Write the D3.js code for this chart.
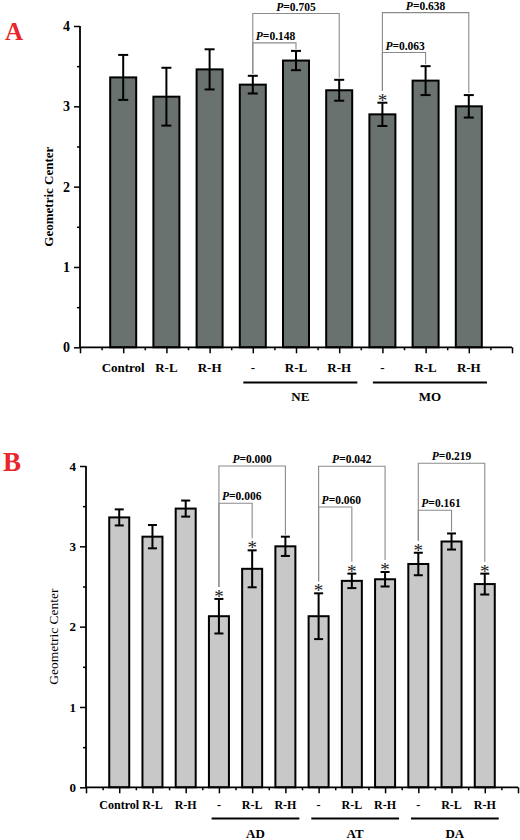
<!DOCTYPE html>
<html><head><meta charset="utf-8">
<script src="https://cdn.jsdelivr.net/npm/d3@7"></script>
<style>html,body{margin:0;padding:0;background:#fff;}svg{display:block;}</style>
</head><body>
<script>
// ---------- DATA ----------
const categoriesA = ["Control","R-L","R-H","-","R-L","R-H","-","R-L","R-H"];
const meansA      = [3.36, 3.12, 3.46, 3.27, 3.57, 3.20, 2.90, 3.32, 3.00];
const errorsA     = [0.28, 0.36, 0.25, 0.11, 0.12, 0.13, 0.145, 0.18, 0.14];
const starsA      = [false,false,false,false,false,false,true,false,false];
const groupsA     = [{name:"NE", from:3, to:5}, {name:"MO", from:6, to:8}];
const pairsA      = [{from:3,to:5,p:"0.705"},{from:3,to:4,p:"0.148"},{from:6,to:8,p:"0.638"},{from:6,to:7,p:"0.063"}];

const categoriesB = ["Control","R-L","R-H","-","R-L","R-H","-","R-L","R-H","-","R-L","R-H"];
const meansB      = [3.36, 3.12, 3.47, 2.13, 2.72, 3.00, 2.13, 2.57, 2.59, 2.78, 3.06, 2.53];
const errorsB     = [0.10, 0.145, 0.10, 0.215, 0.23, 0.12, 0.285, 0.09, 0.09, 0.14, 0.10, 0.13];
const starsB      = [false,false,false,true,true,false,true,true,true,true,false,true];
const groupsB     = [{name:"AD", from:3, to:5}, {name:"AT", from:6, to:8}, {name:"DA", from:9, to:11}];
const pairsB      = [{from:3,to:5,p:"0.000"},{from:3,to:4,p:"0.006"},{from:6,to:8,p:"0.042"},{from:6,to:7,p:"0.060"},{from:9,to:11,p:"0.219"},{from:9,to:10,p:"0.161"}];

const yTicks = [0,1,2,3,4];
const yTitle = "Geometric Center";

// ---------- LAYOUT ----------
const layoutA = {
  letter:"A", letterX:5, letterY:40, letterSize:25,
  x0:80, x1:512, yTop:26, yBottom:347.3, barW:26, fill:"#69726f", barStroke:2,
  tickFont:14, catFont:13, catY:372, groupLineY:382.5, groupY:401, groupFont:13,
  titleX:48, titleBold:true, titleSize:13, capW:10,
  bracketLevels:[4.155, 3.79, 4.167, 3.67], // in data units
  bracketCentered:[true,false,true,false], pFont:11.5
};
const layoutB = {
  letter:"B", letterX:3, letterY:470.5, letterSize:27,
  x0:86, x1:518, yTop:466, yBottom:787.3, barW:20, fill:"#c8c8c8", barStroke:2,
  tickFont:13, catFont:12, catY:809, groupLineY:818.5, groupY:838, groupFont:13,
  titleX:53, titleBold:false, titleSize:13.5, capW:9,
  bracketLevels:[4.0, 3.537, 3.997, 3.49, 4.035, 3.45],
  bracketCentered:[true,false,true,false,true,false], pFont:11.5
};

const svg = d3.select("body").append("svg").attr("width",520).attr("height",840);
const serif = "'Liberation Serif','Times New Roman',serif";

function drawPanel(L, cats, means, errs, stars, groups, pairs){
  const n = cats.length;
  const g = svg.append("g");
  const x = d3.scaleLinear().domain([0, n+1]).range([L.x0, L.x1]);
  const y = d3.scaleLinear().domain([0, 4]).range([L.yBottom, L.yTop]);

  // bars
  g.selectAll("rect.bar").data(means).enter().append("rect")
    .attr("x",(d,i)=>x(i+1)-L.barW/2).attr("width",L.barW)
    .attr("y",d=>y(d)).attr("height",d=>y(0)-y(d))
    .attr("fill",L.fill).attr("stroke","#000").attr("stroke-width",L.barStroke);

  // error bars
  means.forEach((m,i)=>{
    const cx = x(i+1), t = y(m+errs[i]), b = y(m-errs[i]);
    g.append("line").attr("x1",cx).attr("x2",cx).attr("y1",t).attr("y2",b).attr("stroke","#000").attr("stroke-width",2);
    [t,b].forEach(yy=>g.append("line").attr("x1",cx-L.capW/2).attr("x2",cx+L.capW/2).attr("y1",yy).attr("y2",yy).attr("stroke","#000").attr("stroke-width",2));
    if(stars[i]) g.append("text").attr("x",cx).attr("y",t+4).attr("text-anchor","middle")
      .attr("font-family",serif).attr("font-size",19).attr("fill","#222").text("*");
  });

  // y axis
  const yAxis = d3.axisLeft(y).tickValues(yTicks).tickSize(6).tickPadding(4).tickFormat(d3.format("d"));
  const ya = g.append("g").attr("transform",`translate(${L.x0},0)`).call(yAxis);
  ya.select(".domain").attr("stroke-width",1.8).attr("d",`M0,${y(0)}V${y(4)}`);
  ya.selectAll(".tick line").attr("stroke-width",1.5);
  ya.selectAll(".tick text").attr("font-family",serif).attr("font-weight","bold").attr("font-size",L.tickFont).attr("fill","#000");
  const yMinor = d3.axisLeft(y).tickValues([0.5,1.5,2.5,3.5]).tickSize(3).tickFormat("");
  const ym = g.append("g").attr("transform",`translate(${L.x0},0)`).call(yMinor);
  ym.select(".domain").remove(); ym.selectAll(".tick line").attr("stroke-width",1.5);

  // x axis
  const xAxis = d3.axisBottom(x).tickValues(d3.range(0,n+2)).tickSize(6).tickFormat("");
  const xa = g.append("g").attr("transform",`translate(0,${L.yBottom})`).call(xAxis);
  xa.select(".domain").attr("stroke-width",1.8).attr("d",`M${L.x0},0H${L.x1}`);
  xa.selectAll(".tick line").attr("stroke-width",1.5);
  const xMinor = d3.axisBottom(x).tickValues(d3.range(0,n+1).map(k=>k+0.5)).tickSize(3).tickFormat("");
  const xm = g.append("g").attr("transform",`translate(0,${L.yBottom})`).call(xMinor);
  xm.select(".domain").remove(); xm.selectAll(".tick line").attr("stroke-width",1.5);

  // category labels
  g.selectAll("text.cat").data(cats).enter().append("text")
    .attr("x",(d,i)=>x(i+1)).attr("y",L.catY).attr("text-anchor","middle")
    .attr("font-family",serif).attr("font-weight","bold").attr("font-size",L.catFont).text(d=>d);

  // groups
  groups.forEach(gr=>{
    const a = x(gr.from+1-0.22), b = x(gr.to+1+0.42);
    g.append("line").attr("x1",a).attr("x2",b).attr("y1",L.groupLineY).attr("y2",L.groupLineY).attr("stroke","#000").attr("stroke-width",1.8);
    g.append("text").attr("x",(a+b)/2).attr("y",L.groupY).attr("text-anchor","middle")
      .attr("font-family",serif).attr("font-weight","bold").attr("font-size",L.groupFont).text(gr.name);
  });

  // brackets
  pairs.forEach((p,k)=>{
    const lv = y(L.bracketLevels[k]);
    const xa1 = x(p.from+1), xa2 = x(p.to+1);
    const endOf = i => { const t = y(means[i]+errs[i]); return stars[i] ? t-12 : t-2; };
    g.append("path").attr("d",`M${xa1},${endOf(p.from)}V${lv}H${xa2}V${endOf(p.to)}`)
      .attr("fill","none").attr("stroke","#8a8a8a").attr("stroke-width",1.1);
    const t = g.append("text").attr("y",lv-3).attr("font-family",serif).attr("font-weight","bold").attr("font-size",L.pFont);
    if(L.bracketCentered[k]) t.attr("x",(xa1+xa2)/2).attr("text-anchor","middle");
    else t.attr("x",xa1+3).attr("text-anchor","start");
    t.append("tspan").attr("font-style","italic").text("P");
    t.append("tspan").text("=" + p.p);
  });

  // y title
  g.append("text").attr("transform",`translate(${L.titleX},${(y(0)+y(4))/2 + 10}) rotate(-90)`)
    .attr("text-anchor","middle").attr("dominant-baseline","central")
    .attr("font-family",serif).attr("font-weight",L.titleBold?"bold":"normal").attr("font-size",L.titleSize).text(yTitle);

  // panel letter
  g.append("text").attr("x",L.letterX).attr("y",L.letterY).attr("font-family",serif).attr("font-weight","bold")
    .attr("font-size",L.letterSize).attr("fill","#e8262b").text(L.letter);
}

drawPanel(layoutA, categoriesA, meansA, errorsA, starsA, groupsA, pairsA);
drawPanel(layoutB, categoriesB, meansB, errorsB, starsB, groupsB, pairsB);
</script>
</body></html>
